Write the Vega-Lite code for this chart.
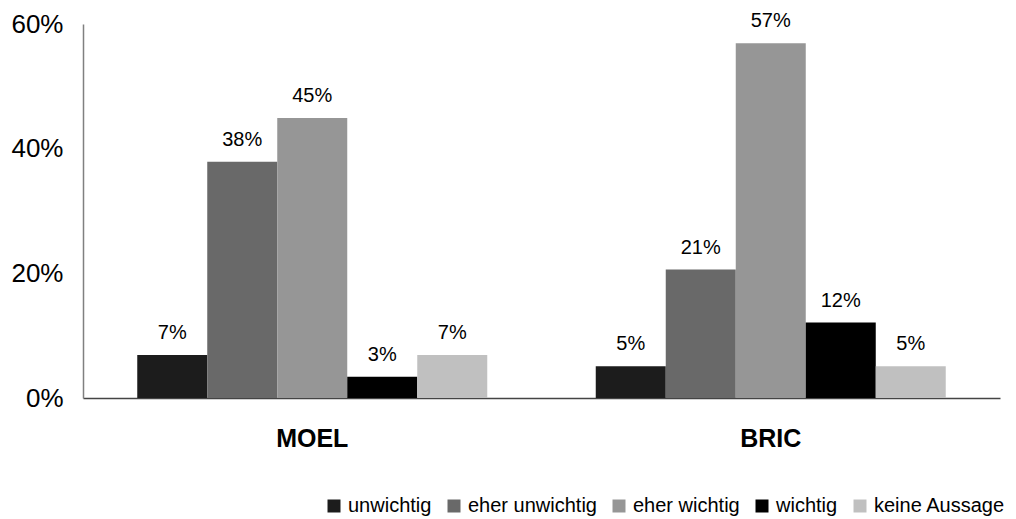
{
  "$schema": "https://vega.github.io/schema/vega-lite/v6.json",
  "width": 917,
  "height": 374,
  "autosize": {"type": "none"},
  "padding": {"left": 83, "top": 24, "right": 16, "bottom": 121},
  "background": "white",
  "config": {"view": {"stroke": null}, "font": "Liberation Sans"},
  "data": {
    "values": [
      {"region": "MOEL", "category": "unwichtig", "value": 0.069},
      {"region": "MOEL", "category": "eher unwichtig", "value": 0.379},
      {"region": "MOEL", "category": "eher wichtig", "value": 0.449},
      {"region": "MOEL", "category": "wichtig", "value": 0.034},
      {"region": "MOEL", "category": "keine Aussage", "value": 0.069},
      {"region": "BRIC", "category": "unwichtig", "value": 0.051},
      {"region": "BRIC", "category": "eher unwichtig", "value": 0.206},
      {"region": "BRIC", "category": "eher wichtig", "value": 0.569},
      {"region": "BRIC", "category": "wichtig", "value": 0.121},
      {"region": "BRIC", "category": "keine Aussage", "value": 0.051}
    ]
  },
  "encoding": {
    "x": {
      "field": "region", "type": "nominal", "sort": ["MOEL", "BRIC"],
      "scale": {"paddingInner": 0, "paddingOuter": 0},
      "axis": {"title": null, "labelAngle": 0, "ticks": false, "domainColor": "#444444", "domainWidth": 1.5,
               "labelFontSize": 25, "labelFontWeight": "bold", "labelColor": "black", "labelPadding": 28}
    },
    "xOffset": {
      "field": "category", "type": "nominal",
      "sort": ["unwichtig", "eher unwichtig", "eher wichtig", "wichtig", "keine Aussage"],
      "scale": {"paddingInner": 0, "paddingOuter": 0.775}
    },
    "y": {
      "field": "value", "type": "quantitative",
      "scale": {"domain": [0, 0.6]},
      "axis": {"title": null, "format": ".0%", "values": [0, 0.2, 0.4, 0.6], "ticks": false, "grid": false,
               "domainColor": "#808080", "domainWidth": 1.5, "labelFontSize": 26, "labelColor": "black", "labelPadding": 20}
    }
  },
  "layer": [
    {
      "mark": {"type": "bar"},
      "encoding": {
        "color": {
          "field": "category", "type": "nominal",
          "sort": ["unwichtig", "eher unwichtig", "eher wichtig", "wichtig", "keine Aussage"],
          "scale": {"domain": ["unwichtig", "eher unwichtig", "eher wichtig", "wichtig", "keine Aussage"],
                    "range": ["#1c1c1c", "#696969", "#969696", "#000000", "#c0c0c0"]},
          "legend": {"title": null, "orient": "none", "direction": "horizontal", "legendX": 241, "legendY": 472,
                     "symbolType": "square", "symbolSize": 169, "symbolStrokeWidth": 0, "labelFontSize": 20,
                     "labelColor": "black", "labelOffset": 4, "columnPadding": 12, "labelLimit": 300}
        }
      }
    },
    {
      "mark": {"type": "text", "baseline": "alphabetic", "dy": -16, "fontSize": 20, "color": "black"},
      "encoding": {
        "text": {"field": "value", "type": "quantitative", "format": ".0%"}
      }
    }
  ]
}
